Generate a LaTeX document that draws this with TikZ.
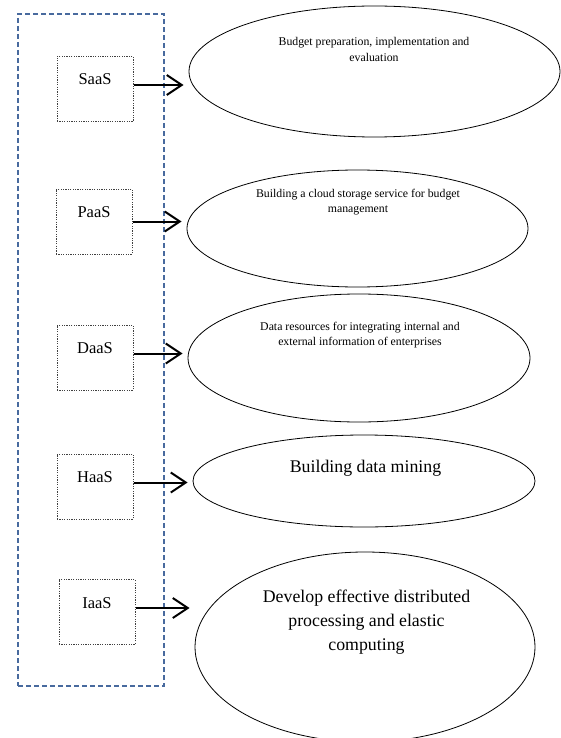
\documentclass[tikz,border=0pt]{standalone}
\usepackage{fontspec}
\setmainfont{Liberation Serif}
\usetikzlibrary{arrows.meta,shapes.geometric,positioning}
\definecolor{frameblue}{RGB}{72,106,158}
\begin{document}
\begin{tikzpicture}[
                        x=1pt, y=-1pt,
                        >={Straight Barb[length=15pt,width=20pt]},
                        svcbox/.style={rectangle, draw=black!75, line width=1pt,
                            dash pattern=on 1.2pt off 1.2pt, minimum width=76pt, minimum height=65pt, inner sep=0pt},
                        svclabel/.style={font=\fontsize{16.5}{19}\selectfont, inner sep=0pt},
                        goal/.style={ellipse, draw, line width=0.8pt, inner sep=0pt},
                        smalltxt/.style={font=\fontsize{11.8}{15.5}\selectfont, align=center, inner sep=0pt},
                        bigtxt/.style={font=\fontsize{17.8}{24}\selectfont, align=center, inner sep=0pt},
                        flow/.style={->, line width=2pt, shorten >=5pt}
                    ]
                    \useasboundingbox (0,0) rectangle (560,738);
                    % Frame
                    \node [rectangle, draw=frameblue, line width=1.2pt, dash pattern=on 5pt off 3pt,
                           minimum width=146pt, minimum height=672pt] (layers) at (91,350) {};

                    % Blocks
                    \node [svcbox] (saas) at (95,89) {};
                    \node [svclabel] (saaslbl) at (95,79) {SaaS};
                    \node [svcbox] (paas) at (94,221.5) {};
                    \node [svclabel] (paaslbl) at (94,212) {PaaS};
                    \node [svcbox] (daas) at (95,357.5) {};
                    \node [svclabel] (daaslbl) at (95,348) {DaaS};
                    \node [svcbox] (haas) at (95,486.5) {};
                    \node [svclabel] (haaslbl) at (95,477) {HaaS};
                    \node [svcbox] (iaas) at (97,612) {};
                    \node [svclabel] (iaaslbl) at (97,603) {IaaS};

                    % Goals
                    \node [goal, minimum width=371pt, minimum height=131pt] (budget) at (374.5,71.5) {};
                    \node [smalltxt] (budgettxt) at (374,49.5) {Budget preparation, implementation and\\evaluation};
                    \node [goal, minimum width=341pt, minimum height=117pt] (storage) at (357.5,228.5) {};
                    \node [smalltxt] (storagetxt) at (358,202) {Building a cloud storage service for budget\\management};
                    \node [goal, minimum width=342pt, minimum height=128pt] (resources) at (359,358) {};
                    \node [smalltxt] (resourcestxt) at (360,335) {Data resources for integrating internal and\\external information of enterprises};
                    \node [goal, minimum width=342pt, minimum height=92pt] (mining) at (364,481) {};
                    \node [bigtxt] (miningtxt) at (365.5,468) {Building data mining};
                    \node [goal, minimum width=340pt, minimum height=190pt] (computing) at (365,647) {};
                    \node [bigtxt] (computingtxt) at (366.5,622) {Develop effective distributed\\processing and elastic\\computing};

                    % Connections
                    \draw [flow] ([yshift=4pt]saas.east) -- ([yshift=4pt]saas.east -| budget.west);
                    \draw [flow] (paas.east) -- (paas.east -| storage.west);
                    \draw [flow] ([yshift=4pt]daas.east) -- ([yshift=4pt]daas.east -| resources.west);
                    \draw [flow] ([yshift=4pt]haas.east) -- ([yshift=4pt]haas.east -| mining.west);
                    \draw [flow] ([yshift=4pt]iaas.east) -- ([yshift=4pt]iaas.east -| computing.west);
                \end{tikzpicture}
\end{document}
